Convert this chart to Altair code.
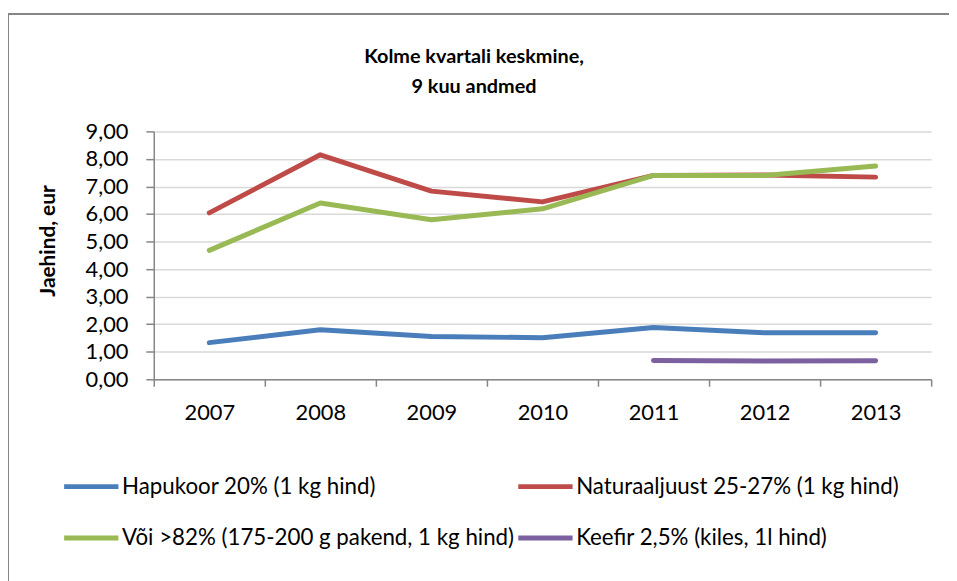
import altair as alt
import pandas as pd

years = ["2007", "2008", "2009", "2010", "2011", "2012", "2013"]
series_names = [
    "Hapukoor 20% (1 kg hind)",
    "Naturaaljuust 25-27% (1 kg hind)",
    "Või >82% (175-200 g pakend, 1 kg hind)",
    "Keefir 2,5% (kiles, 1l hind)",
]
hapukoor = [1.33, 1.80, 1.55, 1.51, 1.88, 1.69, 1.69]
naturaaljuust = [6.04, 8.15, 6.83, 6.44, 7.40, 7.42, 7.34]
voi = [4.68, 6.40, 5.79, 6.19, 7.40, 7.40, 7.74]
keefir = [None, None, None, None, 0.68, 0.66, 0.67]
colors = ["#4a7ebb", "#be4b48", "#98b954", "#7d60a0"]

rows = []
for name, vals in zip(series_names, [hapukoor, naturaaljuust, voi, keefir]):
    for y, v in zip(years, vals):
        if v is not None:
            rows.append({"Aasta": y, "Toode": name, "Hind": v})
df = pd.DataFrame(rows)

# legend fills column-wise: order so that rows read as in the reference
legend_order = [series_names[0], series_names[2], series_names[1], series_names[3]]
legend_colors = [colors[0], colors[2], colors[1], colors[3]]

FONT = "Lato"

lines = alt.Chart(df).mark_line(strokeWidth=5, strokeJoin="round", strokeCap="round").encode(
    x=alt.X("Aasta:O", sort=years, bandPosition=0.5,
            scale=alt.Scale(type="band", paddingInner=0, paddingOuter=0),
            axis=alt.Axis(title=None, tickBand="extent", labelAngle=0, labelFontSize=22,
                          labelFont=FONT, labelColor="#000000", labelPadding=17,
                          tickSize=7, grid=False)),
    y=alt.Y("Hind:Q", scale=alt.Scale(domain=[0, 9], nice=False),
            axis=alt.Axis(title="Jaehind, eur", values=list(range(10)),
                          labelExpr="replace(format(datum.value, '.2f'), '.', ',')",
                          labelFontSize=22, labelFont=FONT, labelColor="#000000",
                          labelPadding=18, tickSize=8,
                          titleFont=FONT, titleFontSize=21, titleFontWeight="bold",
                          titleColor="#000000", titleX=-96, titleY=110,
                          titleAlign="center", titleBaseline="bottom", titleAngle=270)),
    color=alt.Color("Toode:N",
                    scale=alt.Scale(domain=legend_order, range=legend_colors),
                    legend=alt.Legend(title=None, orient="none", legendX=-93, legendY=328,
                                      columns=2, symbolType="stroke", symbolSize=3000,
                                      symbolStrokeWidth=5, labelFontSize=22.5, labelFont=FONT,
                                      labelColor="#000000", labelLimit=600, labelOffset=1,
                                      rowPadding=10, columnPadding=-7)),
)

border_top = alt.Chart(df).mark_rule(color="#868686", strokeWidth=1.5).encode(
    x=alt.value(-147), x2=alt.value(900), y=alt.value(-118.5))
border_left = alt.Chart(df).mark_rule(color="#868686", strokeWidth=1.5).encode(
    x=alt.value(-147), y=alt.value(-118.5), y2=alt.value(500))

chart = alt.layer(border_top, border_left, lines).properties(
    width=784, height=250,
    title=alt.TitleParams(text=["Kolme kvartali keskmine,", "9 kuu andmed"],
                          font=FONT, fontSize=20, fontWeight="bold", color="#000000",
                          anchor="middle", dx=-69, offset=-85, lineHeight=31),
    autosize=alt.AutoSizeParams(type="none"),
    padding={"left": 147, "top": 122, "right": 18, "bottom": 201},
).configure_view(stroke=None).configure_axis(
    domainColor="#868686", domainWidth=1.5, tickColor="#868686", tickWidth=1.5,
    gridColor="#d9d9d9", gridWidth=1.5,
)

chart.save("out.html", embed_options={"renderer": "svg", "actions": False})
